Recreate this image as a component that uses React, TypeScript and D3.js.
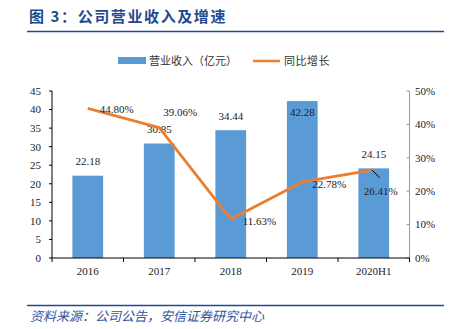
import React from "react";
import * as d3 from "d3";

const categories = ["2016", "2017", "2018", "2019", "2020H1"];
const revenue = [22.18, 30.85, 34.44, 42.28, 24.15];
const growth = [0.448, 0.3906, 0.1163, 0.2278, 0.2641];
const leftTicks = [0, 5, 10, 15, 20, 25, 30, 35, 40, 45];
const rightTicks = [0, 0.1, 0.2, 0.3, 0.4, 0.5];

const BAR = "#5B9BD5";
const LINE = "#ED7D31";
const BLUE = "#1F4A8F";
const SERIF = "'Liberation Serif', 'Times New Roman', serif";
const CJK = "'Noto Sans CJK SC', sans-serif";

// label placement (styling)
const barLabelDy = [-14.5, -14.5, -14, 11.5, -14.5];
const lineLabelOff = [
  [12, 1],
  [4, -15],
  [12, 2],
  [10, 2],
  [-10, 21],
];

export default function App() {
  const W = 452, H = 329;
  const x0 = 52, x1 = 409.5, yTop = 91, yBot = 258;
  const x = d3.scaleBand().domain(categories).range([x0, x1]).paddingInner(0.57).paddingOuter(0.285);
  const yL = d3.scaleLinear().domain([0, 45]).range([yBot, yTop]);
  const yR = d3.scaleLinear().domain([0, 0.5]).range([yBot, yTop]);
  const step = (x1 - x0) / categories.length;
  const cx = (c: string) => (x(c) as number) + x.bandwidth() / 2;
  const line = d3
    .line<number>()
    .x((_, i) => cx(categories[i]))
    .y((d) => yR(d));
  const pctFmt = d3.format(".2%");

  return (
    <svg width={W} height={H} style={{ position: "absolute", left: 0, top: 0, background: "#fff" }}>
      {/* title */}
      <text x={29} y={22} fontFamily={CJK} fontWeight="bold" fontSize={15} fill={BLUE} letterSpacing={1.6}>
        图 3：公司营业收入及增速
      </text>
      <line x1={27} x2={444} y1={31.5} y2={31.5} stroke={BLUE} strokeWidth={1.5} />

      {/* legend */}
      <rect x={118} y={57} width={28} height={7} fill={BAR} />
      <text x={149} y={61} dy="0.36em" fontFamily={CJK} fontSize={11} fill="#333">营业收入（亿元）</text>
      <line x1={253} x2={280} y1={61} y2={61} stroke={LINE} strokeWidth={2.5} />
      <text x={284} y={61} dy="0.36em" fontFamily={CJK} fontSize={11} fill="#333" letterSpacing={0.5}>同比增长</text>

      {/* bars */}
      {categories.map((c, i) => (
        <rect key={c} x={x(c)} y={yL(revenue[i])} width={x.bandwidth()} height={yBot - yL(revenue[i])} fill={BAR} />
      ))}

      {/* left axis */}
      <line x1={x0} x2={x0} y1={yTop} y2={yBot} stroke="#000" strokeWidth={1} />
      {leftTicks.map((t) => (
        <g key={t}>
          <line x1={x0 - 3} x2={x0} y1={yL(t)} y2={yL(t)} stroke="#000" />
          <text x={41} y={yL(t)} dy="0.35em" textAnchor="end" fontFamily={SERIF} fontSize={11} fill="#222">{t}</text>
        </g>
      ))}

      {/* right axis */}
      <line x1={x1} x2={x1} y1={yTop} y2={yBot} stroke="#999" strokeWidth={1} />
      {rightTicks.map((t) => (
        <g key={t}>
          <line x1={x1 - 3} x2={x1} y1={yR(t)} y2={yR(t)} stroke="#999" />
          <text x={415} y={yR(t)} dy="0.35em" fontFamily={SERIF} fontSize={11} fill="#222">{d3.format(".0%")(t)}</text>
        </g>
      ))}

      {/* x axis */}
      <line x1={x0} x2={x1} y1={yBot} y2={yBot} stroke="#000" strokeWidth={1} />
      {d3.range(categories.length + 1).map((i) => (
        <line key={i} x1={x0 + i * step} x2={x0 + i * step} y1={yBot} y2={yBot + 4} stroke="#000" />
      ))}
      {categories.map((c) => (
        <text key={c} x={cx(c)} y={271} dy="0.35em" textAnchor="middle" fontFamily={SERIF} fontSize={11} fill="#222">{c}</text>
      ))}

      {/* bar labels */}
      {categories.map((c, i) => (
        <text key={c} x={cx(c)} y={yL(revenue[i]) + barLabelDy[i]} dy="0.35em" textAnchor="middle" fontFamily={SERIF} fontSize={11} fill="#222">
          {revenue[i].toFixed(2)}
        </text>
      ))}

      {/* line */}
      <path d={line(growth) as string} fill="none" stroke={LINE} strokeWidth={2.8} strokeLinejoin="round" />

      {/* leader line for last label */}
      <line
        x1={cx(categories[4]) - 2}
        y1={yR(growth[4])}
        x2={cx(categories[4]) + 6}
        y2={yR(growth[4]) + 8}
        stroke="#000"
        strokeWidth={1}
      />

      {/* line labels */}
      {categories.map((c, i) => (
        <text key={c} x={cx(c) + lineLabelOff[i][0]} y={yR(growth[i]) + lineLabelOff[i][1]} dy="0.35em" fontFamily={SERIF} fontSize={11} fill="#222">
          {pctFmt(growth[i])}
        </text>
      ))}

      {/* footer */}
      <line x1={27} x2={444} y1={305.5} y2={305.5} stroke={BLUE} strokeWidth={1.5} />
      <text x={30} y={316} dy="0.36em" fontFamily={CJK} fontStyle="italic" fontSize={13} fill="#2F55A4">
        资料来源：公司公告，安信证券研究中心
      </text>
    </svg>
  );
}
